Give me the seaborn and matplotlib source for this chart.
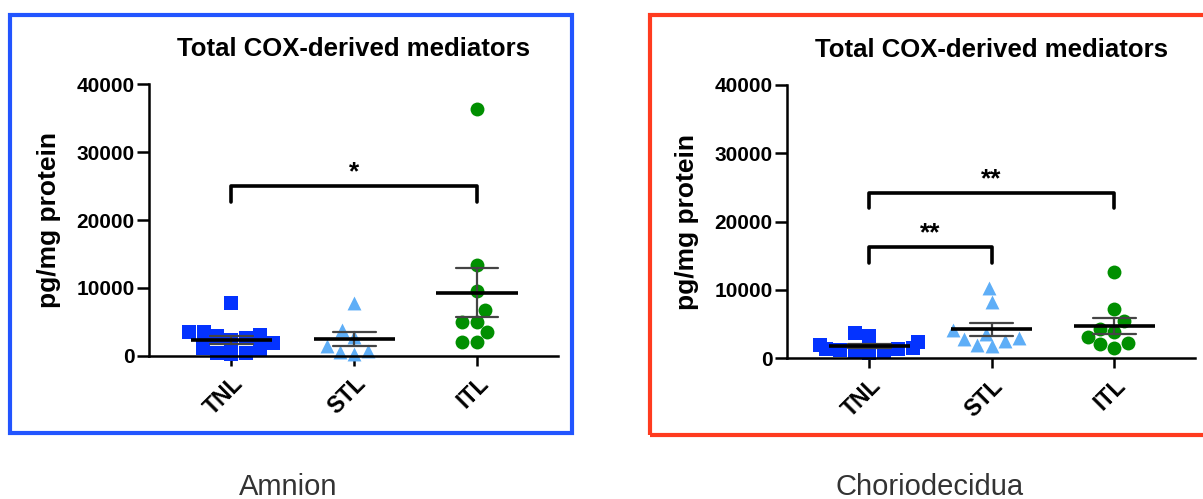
import numpy as np
import pandas as pd
import matplotlib
matplotlib.use("Agg")
import matplotlib.pyplot as plt
import seaborn as sns
from matplotlib.patches import Rectangle

# groups and styles
groups = ["TNL", "STL", "ITL"]
colors = ["#0433FF", "#5EAEF7", "#008F00"]
markers = ["s", "^", "o"]

# values (pg/mg protein)
amnion_tnl = [7750, 3580, 3580, 3090, 2940, 2600, 2350, 1860, 1130, 980, 390, 390, 290]
amnion_stl = [7750, 3820, 2740, 1520, 735, 640, 290]
amnion_itl = [36400, 13380, 9610, 6760, 5050, 5050, 3530, 2060, 2060]

chorio_tnl = [3750, 3300, 2400, 1900, 1500, 1400, 1300, 1200, 1000, 900, 800]
chorio_stl = [10250, 8250, 4100, 3600, 3000, 2800, 2500, 1950, 1750]
chorio_itl = [12590, 7170, 5460, 4290, 3900, 3070, 2280, 2090, 1460]

# significance brackets: (from group, to group, height, label)
amnion_brackets = [(0, 2, 25000, "*")]
chorio_brackets = [(0, 1, 16300, "**"), (0, 2, 24250, "**")]

panel_names = ["Amnion", "Choriodecidua"]
title = "Total COX-derived mediators"
ylabel = "pg/mg protein"
yticks = [0, 10000, 20000, 30000, 40000]

sns.set_style("white")
plt.rcParams["font.family"] = ["Liberation Sans", "DejaVu Sans"]
plt.rcParams["text.color"] = "black"
plt.rcParams["axes.labelcolor"] = "black"
plt.rcParams["xtick.color"] = "black"
plt.rcParams["ytick.color"] = "black"

fig = plt.figure(figsize=(12.03, 4.99), dpi=100)
ax1 = fig.add_axes([0.1239, 0.2866, 0.340, 0.545])
ax2 = fig.add_axes([0.6542, 0.2820, 0.3392, 0.5477])


def draw_panel(ax, tnl, stl, itl, brackets):
    df = pd.DataFrame({
        "group": ["TNL"] * len(tnl) + ["STL"] * len(stl) + ["ITL"] * len(itl),
        "value": tnl + stl + itl,
    })
    for g, c, m in zip(groups, colors, markers):
        sns.swarmplot(data=df[df["group"] == g], x="group", y="value", order=groups,
                      color=c, marker=m, size=10, linewidth=0, ax=ax, zorder=2)
    for coll in ax.collections:
        coll.set_clip_on(False)

    # mean +/- SEM
    sns.pointplot(data=df, x="group", y="value", order=groups, errorbar="se",
                  capsize=0.35, color="#444444", linestyle="none", marker="",
                  err_kws={"linewidth": 1.6}, ax=ax, zorder=3)
    means = df.groupby("group")["value"].mean().reindex(groups)
    pos = np.arange(len(groups))
    ax.hlines(means.values, pos - 0.33, pos + 0.33, color="black", lw=2.6, zorder=4)

    # brackets
    for a, b, h, lab in brackets:
        ax.plot([a, a, b, b], [h - 2300, h, h, h - 2300], color="black",
                lw=2.6, solid_capstyle="round", clip_on=False)
        ax.text((a + b) / 2, h + 200, lab, ha="center", va="bottom",
                fontsize=19, fontweight="bold")

    ax.set_xlim(-0.67, 2.66)
    ax.set_ylim(0, 40000)
    ax.set_yticks(yticks)
    ax.set_yticklabels([str(t) for t in yticks], fontsize=15, fontweight="bold")
    ax.set_xticks(pos)
    ax.set_xticklabels(groups, fontsize=16.5, fontweight="bold", rotation=45,
                       ha="right", rotation_mode="anchor")
    ax.set_xlabel("")
    ax.set_ylabel(ylabel, fontsize=19, fontweight="bold", va="center")
    ax.yaxis.set_label_coords(-0.245, 0.5)
    ax.tick_params(axis="y", length=9, width=1.8, pad=1.5, left=True)
    ax.tick_params(axis="x", length=7.5, width=1.8, pad=4, bottom=True)
    sns.despine(ax=ax)
    for s in ["left", "bottom"]:
        ax.spines[s].set_linewidth(1.8)
        ax.spines[s].set_color("black")
    ax.text(0.5, 1.129, title, transform=ax.transAxes, ha="center", va="center",
            fontsize=18.5, fontweight="bold")


draw_panel(ax1, amnion_tnl, amnion_stl, amnion_itl, amnion_brackets)
draw_panel(ax2, chorio_tnl, chorio_stl, chorio_itl, chorio_brackets)

# coloured frames round each panel
fig.patches.append(Rectangle((0.0083, 0.1323), 0.467, 0.8377, transform=fig.transFigure,
                             fill=False, edgecolor="#2255FF", lw=3))
fig.patches.append(Rectangle((0.5403, 0.128), 0.475, 0.842, transform=fig.transFigure,
                             fill=False, edgecolor="#FF3B1F", lw=3))

fig.text(0.2394, 0.008, panel_names[0], ha="center", va="baseline", fontsize=21, color="#333333")
fig.text(0.773, 0.008, panel_names[1], ha="center", va="baseline", fontsize=21, color="#333333")

fig.savefig("out.png", dpi=100)
